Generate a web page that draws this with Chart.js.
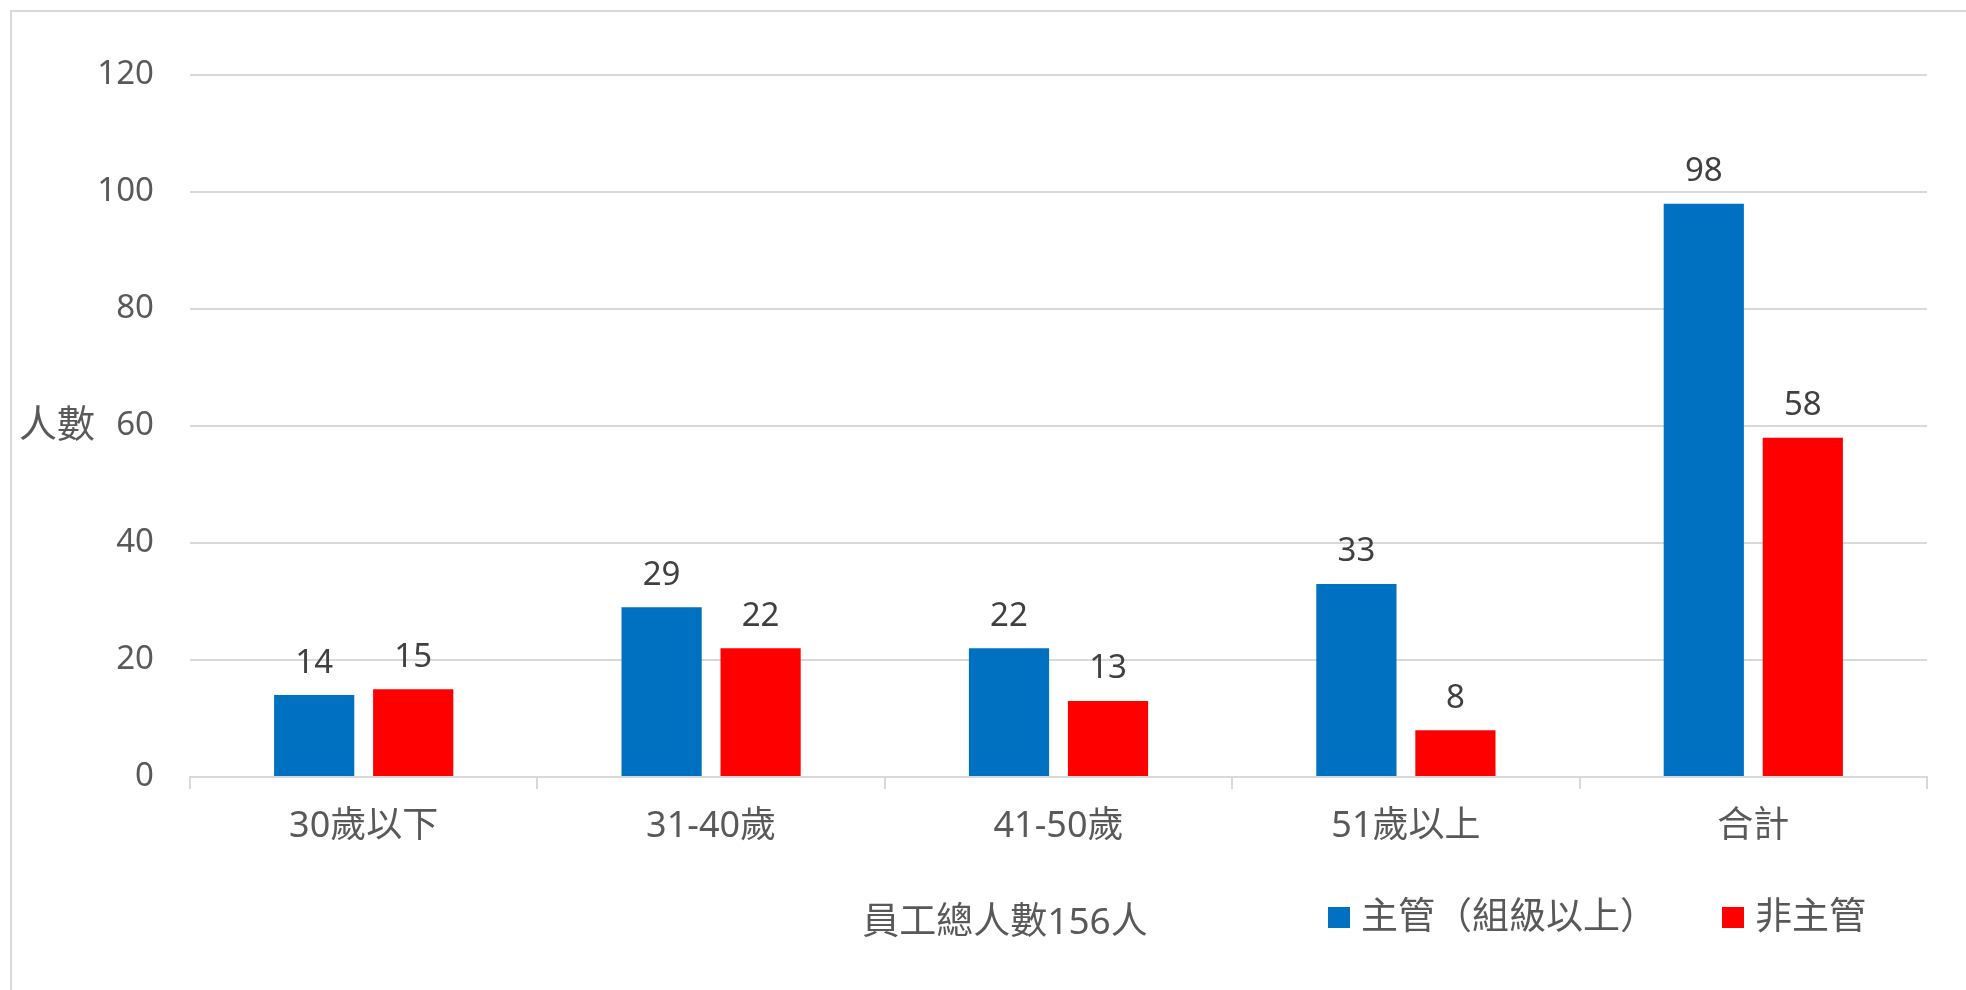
<!DOCTYPE html>
<html>
<head>
<meta charset="utf-8">
<script src="https://cdn.jsdelivr.net/npm/chart.js@4.4.0/dist/chart.umd.min.js"></script>
<style>
  body { margin: 0; background: #fff; }
</style>
</head>
<body>
<canvas id="myChart" width="1966" height="990"></canvas>
<script>
const labels = ["30歲以下", "31-40歲", "41-50歲", "51歲以上", "合計"];
const managers = [14, 29, 22, 33, 98];
const staff = [15, 22, 13, 8, 58];
const seriesNames = ["主管（組級以上）", "非主管"];
const yMax = 120;
const yStep = 20;
const yTitle = "人數";
const xTitle = "員工總人數156人";

const FONT = '"Noto Sans", "Noto Sans CJK TC", sans-serif';
const textGray = "#595959";

// frame, value labels, y title, bottom title and legend
const extras = {
      id: "extras",
      beforeDraw(chart) {
            const c = chart.ctx;
            c.save();
            c.strokeStyle = "#d9d9d9";
            c.lineWidth = 2;
            c.beginPath();
            c.moveTo(11, 990);
            c.lineTo(11, 11);
            c.lineTo(1966, 11);
            c.stroke();
            c.restore();
      },
      afterDatasetsDraw(chart) {
            const c = chart.ctx;
            c.save();
            c.font = "33px " + FONT;
            c.fillStyle = "#404040";
            c.textAlign = "center";
            c.textBaseline = "middle";
            chart.data.datasets.forEach((ds, i) => {
                  chart.getDatasetMeta(i).data.forEach((bar, j) => {
                        c.fillText(ds.data[j], bar.x, bar.y - 32);
                  });
            });
            c.restore();
      },
      afterDraw(chart) {
            const c = chart.ctx;
            const y = chart.scales.y;
            c.save();
            c.fillStyle = textGray;
            c.textBaseline = "middle";
            c.textAlign = "left";
            c.font = "38px " + FONT;
            c.fillText(yTitle, 19, y.getPixelForValue(60));

            c.font = "37px " + FONT;
            c.textAlign = "center";
            c.fillText(xTitle, 1005, 923);

            // legend
            let lx = 1328;
            chart.data.datasets.forEach((ds, i) => {
                  c.fillStyle = ds.backgroundColor;
                  c.fillRect(lx, 907, 22, 21);
                  c.fillStyle = textGray;
                  c.textAlign = "left";
                  c.fillText(ds.label, lx + 33, 918);
                  lx = i === 0 ? 1722 : lx;
            });
            c.restore();
      },
};

const ctx = document.getElementById("myChart").getContext("2d");

const data = {
      labels,
      datasets: [
            {
                  label: seriesNames[0],
                  data: managers,
                  backgroundColor: "#0070C0",
                  categoryPercentage: 0.57,
                  barPercentage: 0.81,
            },
            {
                  label: seriesNames[1],
                  data: staff,
                  backgroundColor: "#FF0000",
                  categoryPercentage: 0.57,
                  barPercentage: 0.81,
            },
      ],
};

const config = {
      type: "bar",
      data: data,
      options: {
            responsive: false,
            animation: false,
            layout: { padding: { top: 75, right: 39, bottom: 0, left: 0 } },
            plugins: {
                  legend: { display: false },
                  tooltip: { enabled: false },
            },
            scales: {
                  x: {
                        grid: {
                              offset: true,
                              drawOnChartArea: false,
                              drawTicks: true,
                              tickLength: 12,
                              color: "#d9d9d9",
                              lineWidth: 2,
                        },
                        border: { display: true, color: "#d9d9d9", width: 2 },
                        ticks: {
                              color: textGray,
                              font: { size: 36, family: FONT },
                              padding: 16,
                              maxRotation: 0,
                        },
                        afterFit: (scale) => {
                              scale.height = 213;
                        },
                  },
                  y: {
                        min: 0,
                        max: yMax,
                        grid: { color: "#d9d9d9", lineWidth: 2, drawTicks: false },
                        border: { display: false },
                        ticks: {
                              stepSize: yStep,
                              color: textGray,
                              font: { size: 33, family: FONT },
                              padding: 36,
                        },
                        afterFit: (scale) => {
                              scale.width = 190;
                        },
                  },
            },
      },
      plugins: [extras],
};

const myChart = new Chart(ctx, config);
</script>
</body>
</html>
